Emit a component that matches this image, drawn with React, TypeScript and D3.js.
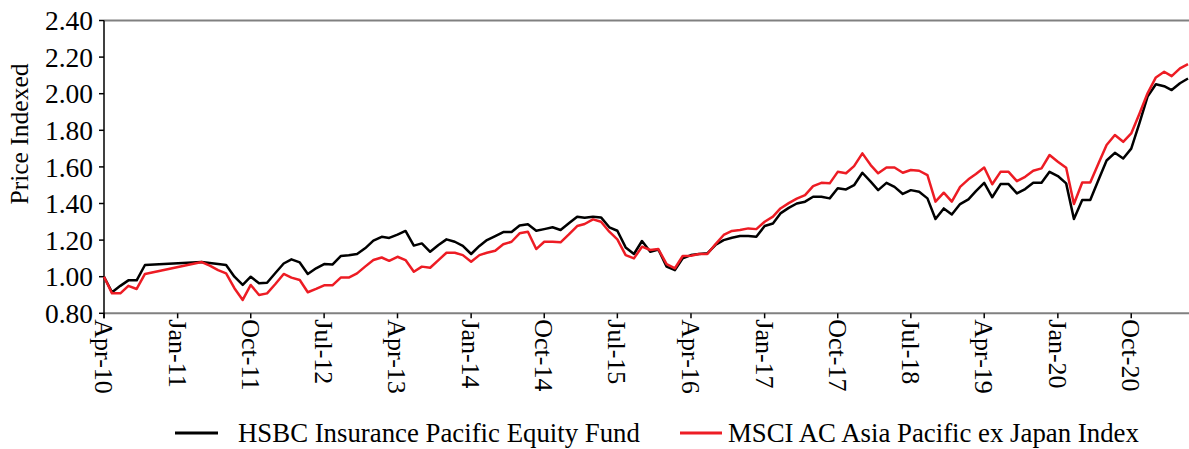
import { useMemo } from "react";
import * as d3 from "d3";

// month labels of the monthly series (gap Oct-10..Mar-11 is missing in the source)
const months = [
  "Apr-10", "May-10", "Jun-10", "Jul-10", "Aug-10", "Sep-10",
  "Apr-11", "May-11", "Jun-11", "Jul-11", "Aug-11", "Sep-11", "Oct-11", "Nov-11", "Dec-11",
  "Jan-12", "Feb-12", "Mar-12", "Apr-12", "May-12", "Jun-12", "Jul-12", "Aug-12", "Sep-12", "Oct-12", "Nov-12", "Dec-12",
  "Jan-13", "Feb-13", "Mar-13", "Apr-13", "May-13", "Jun-13", "Jul-13", "Aug-13", "Sep-13", "Oct-13", "Nov-13", "Dec-13",
  "Jan-14", "Feb-14", "Mar-14", "Apr-14", "May-14", "Jun-14", "Jul-14", "Aug-14", "Sep-14", "Oct-14", "Nov-14", "Dec-14",
  "Jan-15", "Feb-15", "Mar-15", "Apr-15", "May-15", "Jun-15", "Jul-15", "Aug-15", "Sep-15", "Oct-15", "Nov-15", "Dec-15",
  "Jan-16", "Feb-16", "Mar-16", "Apr-16", "May-16", "Jun-16", "Jul-16", "Aug-16", "Sep-16", "Oct-16", "Nov-16", "Dec-16",
  "Jan-17", "Feb-17", "Mar-17", "Apr-17", "May-17", "Jun-17", "Jul-17", "Aug-17", "Sep-17", "Oct-17", "Nov-17", "Dec-17",
  "Jan-18", "Feb-18", "Mar-18", "Apr-18", "May-18", "Jun-18", "Jul-18", "Aug-18", "Sep-18", "Oct-18", "Nov-18", "Dec-18",
  "Jan-19", "Feb-19", "Mar-19", "Apr-19", "May-19", "Jun-19", "Jul-19", "Aug-19", "Sep-19", "Oct-19", "Nov-19", "Dec-19",
  "Jan-20", "Feb-20", "Mar-20", "Apr-20", "May-20", "Jun-20", "Jul-20", "Aug-20", "Sep-20", "Oct-20", "Nov-20", "Dec-20",
  "Jan-21", "Feb-21", "Mar-21", "Apr-21", "May-21",
];

const fund = [
  1.0, 0.915, 0.95, 0.98, 0.98, 1.064,
  1.08, 1.075, 1.07, 1.064, 1.0, 0.955, 1.0, 0.964, 0.967,
  1.02, 1.072, 1.095, 1.078, 1.015, 1.046, 1.069, 1.066, 1.113, 1.117, 1.124, 1.155,
  1.197, 1.218, 1.212, 1.23, 1.25, 1.17, 1.182, 1.136, 1.173, 1.204, 1.191, 1.168,
  1.124, 1.168, 1.2, 1.222, 1.244, 1.244, 1.28, 1.286, 1.251, 1.26, 1.27, 1.255,
  1.292, 1.328, 1.322, 1.328, 1.324, 1.27, 1.251, 1.16, 1.124, 1.195, 1.136, 1.149,
  1.055, 1.036, 1.1, 1.118, 1.124, 1.128, 1.173, 1.2, 1.213, 1.222, 1.222, 1.218,
  1.277, 1.291, 1.346, 1.376, 1.4, 1.41, 1.437, 1.437, 1.428, 1.483, 1.477, 1.5,
  1.568, 1.519, 1.473, 1.513, 1.491, 1.452, 1.473, 1.464, 1.428, 1.315, 1.373, 1.34,
  1.397, 1.423, 1.468, 1.513, 1.434, 1.506, 1.506, 1.455, 1.479, 1.513, 1.513, 1.573,
  1.55, 1.51, 1.315, 1.419, 1.419, 1.53, 1.635, 1.677, 1.646, 1.7, 1.84, 1.984,
  2.052, 2.041, 2.02, 2.057, 2.083,
];

const benchmark = [
  1.0, 0.909, 0.909, 0.95, 0.933, 1.015,
  1.08, 1.06, 1.036, 1.018, 0.937, 0.873, 0.955, 0.9, 0.909,
  0.96, 1.015, 0.995, 0.982, 0.915, 0.933, 0.953, 0.953, 0.995, 0.995, 1.018, 1.055,
  1.091, 1.105, 1.087, 1.109, 1.091, 1.027, 1.055, 1.049, 1.091, 1.131, 1.131, 1.118,
  1.082, 1.118, 1.131, 1.142, 1.177, 1.191, 1.237, 1.246, 1.151, 1.191, 1.191, 1.188,
  1.231, 1.277, 1.288, 1.313, 1.3, 1.246, 1.204, 1.118, 1.1, 1.164, 1.146, 1.151,
  1.069, 1.046, 1.113, 1.115, 1.124, 1.124, 1.177, 1.228, 1.25, 1.255, 1.264, 1.26,
  1.3, 1.328, 1.373, 1.402, 1.427, 1.446, 1.495, 1.513, 1.51, 1.573, 1.565, 1.604,
  1.674, 1.61, 1.565, 1.597, 1.597, 1.568, 1.583, 1.579, 1.555, 1.41, 1.459, 1.41,
  1.491, 1.532, 1.561, 1.597, 1.505, 1.573, 1.573, 1.522, 1.546, 1.579, 1.592, 1.665,
  1.628, 1.595, 1.397, 1.515, 1.515, 1.62, 1.72, 1.774, 1.737, 1.783, 1.892, 2.002,
  2.089, 2.12, 2.096, 2.138, 2.162,
];

const xTickLabels = [
  "Apr-10", "Jan-11", "Oct-11", "Jul-12", "Apr-13", "Jan-14", "Oct-14", "Jul-15",
  "Apr-16", "Jan-17", "Oct-17", "Jul-18", "Apr-19", "Jan-20", "Oct-20",
];
const yTicks = [0.8, 1.0, 1.2, 1.4, 1.6, 1.8, 2.0, 2.2, 2.4];

const seriesNames = ["HSBC Insurance Pacific Equity Fund", "MSCI AC Asia Pacific ex Japan Index"];
const seriesColors = ["#000000", "#ed1c24"];

const W = 1189;
const H = 449;
const PLOT = { left: 104, right: 1188, top: 20.5, bottom: 313.3 };
const TXT = { fontFamily: "'Liberation Serif', 'Times New Roman', serif", fill: "#000" };

const parse = d3.utcParse("%b-%y");

export default function App() {
  const dates = useMemo(() => months.map((m) => parse(m) as Date), []);

  const x = d3
    .scaleUtc()
    .domain([parse("Apr-10") as Date, parse("May-21") as Date])
    .range([PLOT.left, PLOT.right]);
  const y = d3.scaleLinear().domain([0.8, 2.4]).range([PLOT.bottom, PLOT.top]);

  const line = d3
    .line<number>()
    .x((_, i) => x(dates[i]))
    .y((v) => y(v));

  const series = [fund, benchmark];

  return (
    <svg
      width={W}
      height={H}
      style={{ position: "absolute", left: 0, top: 0, background: "#fff" }}
    >
      {/* top border + x axis line */}
      <line x1={PLOT.left} x2={W} y1={y(2.4)} y2={y(2.4)} stroke="#808080" strokeWidth={2} />
      <line x1={PLOT.left} x2={W} y1={y(0.8)} y2={y(0.8)} stroke="#808080" strokeWidth={2} />

      {/* y axis */}
      <line x1={PLOT.left} x2={PLOT.left} y1={y(2.4)} y2={y(0.8) + 5} stroke="#000" strokeWidth={1.5} />
      {yTicks.map((t) => (
        <g key={t} transform={`translate(0,${y(t)})`}>
          <line x1={PLOT.left - 5} x2={PLOT.left} stroke="#000" strokeWidth={1.5} />
          <text x={93} dy="0.35em" textAnchor="end" fontSize={27.5} style={TXT}>
            {t.toFixed(2)}
          </text>
        </g>
      ))}
      <text
        transform={`translate(28,134) rotate(-90)`}
        textAnchor="middle"
        fontSize={25.5}
        style={TXT}
      >
        Price Indexed
      </text>

      {/* x axis ticks */}
      {xTickLabels.map((l) => {
        const xx = x(parse(l) as Date);
        return (
          <g key={l} transform={`translate(${xx},0)`}>
            <line y1={PLOT.bottom} y2={PLOT.bottom + 5} stroke="#000" strokeWidth={1.5} />
            <text
              transform={`translate(0,${PLOT.bottom + 6}) rotate(90)`}
              dy="0.35em"
              fontSize={26}
              style={TXT}
            >
              {l}
            </text>
          </g>
        );
      })}

      {/* series */}
      {series.map((s, i) => (
        <path
          key={i}
          d={line(s) ?? ""}
          fill="none"
          stroke={seriesColors[i]}
          strokeWidth={2.5}
          strokeLinejoin="round"
        />
      ))}

      {/* legend */}
      <g transform="translate(175,433)">
        <line x1={0} x2={43} stroke={seriesColors[0]} strokeWidth={3} />
        <text x={63} dy="0.35em" fontSize={26.8} style={TXT}>
          {seriesNames[0]}
        </text>
      </g>
      <g transform="translate(680,433)">
        <line x1={0} x2={42} stroke={seriesColors[1]} strokeWidth={3} />
        <text x={48} dy="0.35em" fontSize={26.8} style={TXT}>
          {seriesNames[1]}
        </text>
      </g>
    </svg>
  );
}
